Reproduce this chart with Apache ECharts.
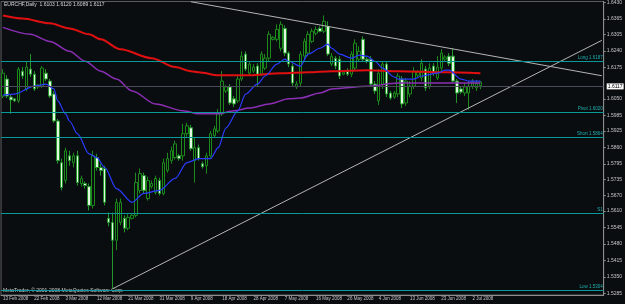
<!DOCTYPE html>
<html>
<head>
<meta charset="utf-8">
<title>EURCHF Daily</title>
<script src="https://cdn.jsdelivr.net/npm/echarts@6/dist/echarts.min.js"></script>
<style>
html, body { margin: 0; padding: 0; background: #0a0d10; }
#chart { width: 625px; height: 304px; }
</style>
</head>
<body>
<div id="chart"></div>
<script>
// daily bars, 13 Feb 2008 .. 4 Jul 2008 (Sunday bars included)
const opens = [
  1.6062, 1.6129, 1.6058, 1.6051, 1.6043, 1.6160, 1.6090, 1.6168, 1.6148, 1.6098,
  1.6101, 1.6152, 1.6121, 1.6070, 1.5964, 1.5800, 1.5730, 1.5827, 1.5800, 1.5827,
  1.5718, 1.5718, 1.5706, 1.5632, 1.5820, 1.5781, 1.5777, 1.5581, 1.5565, 1.5495,
  1.5565, 1.5581, 1.5542, 1.5581, 1.5593, 1.5691, 1.5749, 1.5659, 1.5706, 1.5683,
  1.5730, 1.5679, 1.5769, 1.5808, 1.5820, 1.5827, 1.5827, 1.5914, 1.5937, 1.5808,
  1.5859, 1.5796, 1.5788, 1.5827, 1.5906, 1.5925, 1.5992, 1.6082, 1.6098, 1.6051,
  1.6043, 1.6129, 1.6227, 1.6152, 1.6160, 1.6180, 1.6148, 1.6172, 1.6211, 1.6285,
  1.6285, 1.6250, 1.6328, 1.6231, 1.6180, 1.6098, 1.6113, 1.6219, 1.6231, 1.6277,
  1.6309, 1.6328, 1.6317, 1.6336, 1.6188, 1.6211, 1.6207, 1.6148, 1.6160, 1.6148,
  1.6172, 1.6207, 1.6285, 1.6207, 1.6207, 1.6109, 1.6043, 1.6109, 1.6188, 1.6074,
  1.6058, 1.6070, 1.6129, 1.6035, 1.6070, 1.6101, 1.6144, 1.6133, 1.6168, 1.6101,
  1.6180, 1.6133, 1.6172, 1.6207, 1.6219, 1.6219, 1.6121, 1.6090, 1.6074, 1.6074,
  1.6101, 1.6094, 1.6103
];
const closes = [
  1.6152, 1.6062, 1.6047, 1.6043, 1.6168, 1.6141, 1.6176, 1.6148, 1.6090, 1.6105,
  1.6172, 1.6129, 1.6062, 1.5964, 1.5808, 1.5702, 1.5847, 1.5808, 1.5827, 1.5722,
  1.5738, 1.5710, 1.5632, 1.5827, 1.5781, 1.5769, 1.5644, 1.5565, 1.5495, 1.5644,
  1.5644, 1.5542, 1.5585, 1.5593, 1.5722, 1.5757, 1.5691, 1.5730, 1.5718, 1.5738,
  1.5679, 1.5800, 1.5816, 1.5847, 1.5874, 1.5816, 1.5914, 1.5945, 1.5855, 1.5859,
  1.5816, 1.5784, 1.5827, 1.5914, 1.5933, 1.5992, 1.6121, 1.6098, 1.6035, 1.6031,
  1.6129, 1.6219, 1.6168, 1.6188, 1.6176, 1.6148, 1.6227, 1.6211, 1.6305, 1.6293,
  1.6324, 1.6344, 1.6231, 1.6188, 1.6113, 1.6109, 1.6227, 1.6277, 1.6305, 1.6317,
  1.6324, 1.6317, 1.6356, 1.6227, 1.6219, 1.6180, 1.6141, 1.6156, 1.6148, 1.6227,
  1.6270, 1.6238, 1.6207, 1.6199, 1.6109, 1.6082, 1.6152, 1.6188, 1.6070, 1.6054,
  1.6074, 1.6141, 1.6031, 1.6121, 1.6101, 1.6160, 1.6156, 1.6191, 1.6094, 1.6172,
  1.6152, 1.6176, 1.6231, 1.6215, 1.6191, 1.6121, 1.6074, 1.6078, 1.6098, 1.6101,
  1.6117, 1.6113, 1.6117
];
const lows = [
  1.6054, 1.6054, 1.5992, 1.6039, 1.6035, 1.6129, 1.6082, 1.6137, 1.6082, 1.6090,
  1.6094, 1.6121, 1.6054, 1.5957, 1.5796, 1.5691, 1.5718, 1.5788, 1.5781, 1.5710,
  1.5706, 1.5698, 1.5612, 1.5620, 1.5769, 1.5749, 1.5632, 1.5550, 1.5304, 1.5456,
  1.5554, 1.5526, 1.5534, 1.5577, 1.5585, 1.5679, 1.5679, 1.5651, 1.5698, 1.5675,
  1.5671, 1.5671, 1.5761, 1.5796, 1.5812, 1.5808, 1.5808, 1.5902, 1.5847, 1.5722,
  1.5808, 1.5777, 1.5757, 1.5820, 1.5898, 1.5917, 1.5984, 1.6074, 1.6027, 1.6019,
  1.6035, 1.6121, 1.6160, 1.6141, 1.6152, 1.6101, 1.6141, 1.6164, 1.6199, 1.6281,
  1.6277, 1.6238, 1.6219, 1.6176, 1.6098, 1.6090, 1.6101, 1.6207, 1.6219, 1.6270,
  1.6301, 1.6313, 1.6309, 1.6219, 1.6180, 1.6168, 1.6129, 1.6144, 1.6141, 1.6137,
  1.6160, 1.6199, 1.6199, 1.6191, 1.6098, 1.6070, 1.6027, 1.6090, 1.6058, 1.6047,
  1.6051, 1.6058, 1.6015, 1.6023, 1.6058, 1.6090, 1.6133, 1.6121, 1.6082, 1.6090,
  1.6141, 1.6125, 1.6160, 1.6199, 1.6180, 1.6113, 1.6035, 1.6070, 1.6062, 1.6008,
  1.6090, 1.6082, 1.6089
];
const highs = [
  1.6168, 1.6144, 1.6066, 1.6054, 1.6176, 1.6176, 1.6199, 1.6227, 1.6160, 1.6109,
  1.6180, 1.6168, 1.6129, 1.6082, 1.5972, 1.5816, 1.5859, 1.5847, 1.5839, 1.5847,
  1.5749, 1.5726, 1.5718, 1.5847, 1.5835, 1.5796, 1.5788, 1.5604, 1.5604, 1.5659,
  1.5659, 1.5593, 1.5597, 1.5597, 1.5761, 1.5777, 1.5761, 1.5745, 1.5730, 1.5749,
  1.5741, 1.5816, 1.5839, 1.5863, 1.5886, 1.5835, 1.5953, 1.5957, 1.5949, 1.5898,
  1.5871, 1.5804, 1.5839, 1.5925, 1.5945, 1.6011, 1.6160, 1.6105, 1.6109, 1.6062,
  1.6141, 1.6238, 1.6238, 1.6199, 1.6188, 1.6191, 1.6238, 1.6227, 1.6317, 1.6297,
  1.6344, 1.6356, 1.6340, 1.6238, 1.6191, 1.6121, 1.6238, 1.6289, 1.6317, 1.6328,
  1.6336, 1.6336, 1.6379, 1.6356, 1.6231, 1.6219, 1.6219, 1.6160, 1.6172, 1.6238,
  1.6285, 1.6258, 1.6297, 1.6215, 1.6219, 1.6121, 1.6168, 1.6199, 1.6199, 1.6082,
  1.6082, 1.6152, 1.6141, 1.6133, 1.6121, 1.6176, 1.6164, 1.6207, 1.6180, 1.6191,
  1.6191, 1.6219, 1.6246, 1.6223, 1.6231, 1.6250, 1.6129, 1.6098, 1.6113, 1.6121,
  1.6129, 1.6125, 1.6120
];

// moving averages: [bar index, price]
const maFast = [
  [0, 1.6066], [3, 1.6070], [8, 1.6101], [11, 1.6109], [13, 1.6090], [14, 1.6043],
  [16, 1.5992], [17, 1.5964], [19, 1.5914], [22, 1.5835], [24, 1.5820], [26, 1.5781],
  [29, 1.5698], [33, 1.5644], [36, 1.5679], [40, 1.5691], [44, 1.5738], [47, 1.5800],
  [50, 1.5816], [53, 1.5816], [55, 1.5859], [57, 1.5937], [60, 1.6004], [62, 1.6070],
  [65, 1.6109], [67, 1.6141], [70, 1.6188], [72, 1.6207], [73, 1.6199], [76, 1.6180],
  [78, 1.6227], [81, 1.6250], [83, 1.6266], [84, 1.6250], [86, 1.6227], [89, 1.6211],
  [91, 1.6223], [93, 1.6219], [95, 1.6199], [97, 1.6172], [100, 1.6137], [101, 1.6129],
  [105, 1.6129], [107, 1.6141], [111, 1.6152], [113, 1.6164], [114, 1.6164], [117, 1.6129],
  [119, 1.6121], [122, 1.6121]
];
const maMid = [
  [0, 1.6332], [7, 1.6305], [12, 1.6277], [17, 1.6238], [21, 1.6199], [25, 1.6160],
  [29, 1.6129], [33, 1.6082], [39, 1.6031], [46, 1.6004], [50, 1.5992], [55, 1.5992],
  [59, 1.6004], [63, 1.6015], [68, 1.6031], [73, 1.6051], [76, 1.6054], [81, 1.6074],
  [84, 1.6090], [93, 1.6101], [101, 1.6113], [113, 1.6113], [122, 1.6113]
];
const maSlow = [
  [0, 1.6379], [5, 1.6367], [12, 1.6348], [17, 1.6328], [22, 1.6305], [25, 1.6285],
  [30, 1.6246], [38, 1.6211], [44, 1.6176], [48, 1.6160], [50, 1.6156], [55, 1.6144],
  [63, 1.6144], [71, 1.6152], [78, 1.6156], [84, 1.6160], [93, 1.6164], [101, 1.6160],
  [113, 1.6156], [122, 1.6152]
];

const trendUpper = [[48, 1.6433], [153, 1.6142]];
const trendLower = [[28, 1.5304], [153, 1.6281]];

const levelNames = ['Long 1.6187', 'Pivot 1.6020', 'Short 1.5864', 'S1', 'Low 1.5304'];
const levelValues = [1.6187, 1.6020, 1.5864, 1.5581, 1.5304];
const lastPrice = 1.6117;

const xTickLabels = [
  '13 Feb 2008', '22 Feb 2008', '3 Mar 2008', '12 Mar 2008', '21 Mar 2008', '31 Mar 2008',
  '9 Apr 2008', '18 Apr 2008', '28 Apr 2008', '7 May 2008', '16 May 2008', '26 May 2008',
  '4 Jun 2008', '13 Jun 2008', '23 Jun 2008', '2 Jul 2008'
];
const yTickLabels = [
  '1.6430', '1.6365', '1.6305', '1.6240', '1.6175', '1.6050', '1.5985', '1.5925', '1.5860',
  '1.5795', '1.5735', '1.5670', '1.5610', '1.5545', '1.5480', '1.5415', '1.5350', '1.5285'
];

const slotCount = 154; // bars plus empty space on the right
const barsPerLabel = 8;

(function () {
  const chart = echarts.init(document.getElementById('chart'), null, { renderer: 'canvas' });
  const slots = Array.from({ length: slotCount }, (_, i) => String(i));
  const candles = opens.map((o, i) => [o, closes[i], lows[i], highs[i]]);
  const FONT = 'Liberation Sans';
  const TEAL = '#0b9898';

  const maLine = (data, color, width) => ({
    type: 'line', data: data, showSymbol: false, smooth: 0.3, smoothMonotone: 'x',
    lineStyle: { color: color, width: width }, z: 3, silent: true
  });
  const trend = (data) => ({
    type: 'line', data: data, showSymbol: false,
    lineStyle: { color: '#b4b4b4', width: 1 }, z: 4, silent: true
  });

  chart.setOption({
    animation: false,
    backgroundColor: '#0a0d10',
    textStyle: { fontFamily: FONT },
    grid: { left: 0, right: 19, top: 0, bottom: 9, show: true, borderColor: '#5e5e5e', borderWidth: 1 },
    xAxis: {
      type: 'category', data: slots, boundaryGap: true,
      axisLine: { lineStyle: { color: '#8c8c8c' } },
      axisTick: {
        alignWithLabel: true, length: 2, lineStyle: { color: '#8c8c8c' },
        interval: (idx) => idx % barsPerLabel === 0 && idx / barsPerLabel < xTickLabels.length
      },
      axisLabel: {
        interval: barsPerLabel - 1, align: 'left', margin: 1,
        color: '#c4c4c4', fontSize: 4.5, fontFamily: FONT,
        formatter: (v, idx) => xTickLabels[idx / barsPerLabel] || ''
      },
      splitLine: { show: false }
    },
    yAxis: {
      type: 'value', position: 'right', scale: true,
      min: 1.52796, max: 1.64340,
      axisLine: { show: true, lineStyle: { color: '#8c8c8c' } },
      axisTick: { show: true, length: 2, customValues: yTickLabels.map(Number), lineStyle: { color: '#8c8c8c' } },
      axisLabel: {
        customValues: yTickLabels.map(Number), margin: 3,
        color: '#c4c4c4', fontSize: 5, fontFamily: FONT,
        formatter: (v) => v.toFixed(4)
      },
      splitLine: { show: false }
    },
    graphic: [
      {
        type: 'text', left: 4, top: 2,
        style: { text: 'EURCHF,Daily  1.6103 1.6120 1.6089 1.6117', fill: '#d6d6d6', font: '5px "Liberation Sans"' }
      },
      {
        type: 'text', left: 3, top: 288,
        style: { text: 'MetaTrader, \u00a9 2001-2008 MetaQuotes Software Corp.', fill: '#cfcfcf', font: '5px "Liberation Sans"' }
      }
    ],
    series: [
      {
        // horizontal levels drawn underneath everything
        type: 'line', data: [], z: 1, silent: true,
        markLine: {
          symbol: ['none', 'none'], silent: true, animation: false,
          lineStyle: { color: TEAL, width: 1, type: 'solid', opacity: 1 },
          label: { show: true, position: 'insideEndTop', color: '#1fb0b0', fontSize: 4.5, fontFamily: FONT, distance: 1 },
          data: levelValues.map((v, i) => ({ yAxis: v, label: { formatter: levelNames[i] } }))
        }
      },
      {
        type: 'line', data: [], z: 1, silent: true,
        markLine: {
          symbol: ['none', 'none'], silent: true, animation: false,
          lineStyle: { color: '#4a4a5c', width: 1, type: 'solid', opacity: 1 },
          label: {
            show: true, position: 'end', formatter: lastPrice.toFixed(4),
            color: '#000', backgroundColor: '#ffffff', fontSize: 5, fontFamily: FONT,
            padding: [1, 1, 0, 1], distance: 3
          },
          data: [{ yAxis: lastPrice }]
        }
      },
      {
        type: 'candlestick', data: candles, barWidth: 3, z: 2, silent: true,
        itemStyle: {
          color: '#0a0d10', color0: '#e2f5de',
          borderColor: '#1b8a1b', borderColor0: '#22962a', borderWidth: 1
        }
      },
      maLine(maSlow, '#e01010', 2),
      maLine(maMid, '#8a2fb4', 1.5),
      maLine(maFast, '#2a3cff', 1.2),
      trend(trendUpper),
      trend(trendLower)
    ]
  });
})();
</script>
</body>
</html>
